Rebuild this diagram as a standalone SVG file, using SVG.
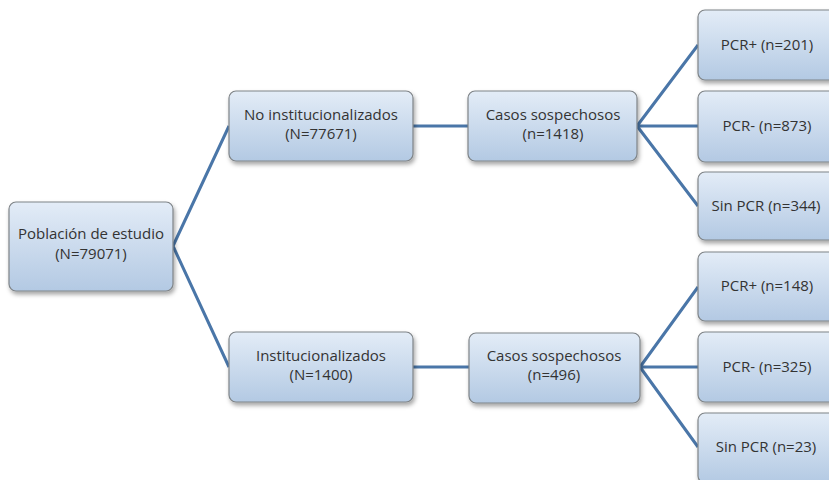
<svg xmlns="http://www.w3.org/2000/svg" width="829" height="480" viewBox="0 0 829 480">
<defs>
<linearGradient id="g" x1="0" y1="0" x2="0" y2="1">
<stop offset="0" stop-color="#e3ecf7"/>
<stop offset="1" stop-color="#b3c9e3"/>
</linearGradient>
<filter id="sh" x="-10%" y="-10%" width="130%" height="140%">
<feDropShadow dx="1.5" dy="3" stdDeviation="2" flood-color="#000" flood-opacity="0.35"/>
</filter>
</defs>
<style>
.box{fill:url(#g);stroke:#7f8488;stroke-width:1.2;filter:url(#sh)}
.t{font-family:"Open Sans","Liberation Sans",sans-serif;font-size:15px;fill:#333;text-anchor:middle}
.c{stroke:#4a76a8;stroke-width:3;fill:none}
</style>
<rect width="829" height="480" fill="#fff"/>
<g id="connectors">
<path class="c" d="M173,246 L229,126 M173,246 L229,367"/>
<path class="c" d="M413,126 L468,126 M637,126 L698,45 M637,126 L698,126 M637,126 L698,206"/>
<path class="c" d="M413,367 L469,367 M640,367 L698,287 M640,367 L698,367 M640,367 L698,447"/>
</g>
<g id="root"><rect class="box" x="9" y="202" width="164" height="89" rx="7"/>
<text class="t" x="91" y="239">Población de estudio</text><text class="t" x="91" y="259">(N=79071)</text></g>
<g id="noinst"><rect class="box" x="229" y="91" width="184" height="70" rx="7"/>
<text class="t" x="321" y="120">No institucionalizados</text><text class="t" x="321" y="139">(N=77671)</text></g>
<g id="casos1"><rect class="box" x="468" y="91" width="169" height="70" rx="7"/>
<text class="t" x="553" y="120">Casos sospechosos</text><text class="t" x="553" y="139">(n=1418)</text></g>
<g id="inst"><rect class="box" x="229" y="332" width="184" height="70" rx="7"/>
<text class="t" x="321" y="361">Institucionalizados</text><text class="t" x="321" y="380">(N=1400)</text></g>
<g id="casos2"><rect class="box" x="469" y="333" width="171" height="70" rx="7"/>
<text class="t" x="554" y="361">Casos sospechosos</text><text class="t" x="554" y="380">(n=496)</text></g>
<g id="pcrp1"><rect class="box" x="698" y="10" width="140" height="70" rx="7"/>
<text class="t" x="767" y="50">PCR+ (n=201)</text></g>
<g id="pcrn1"><rect class="box" x="698" y="91" width="140" height="71" rx="7"/>
<text class="t" x="767" y="131">PCR- (n=873)</text></g>
<g id="sin1"><rect class="box" x="698" y="172" width="140" height="68" rx="7"/>
<text class="t" x="766" y="211">Sin PCR (n=344)</text></g>
<g id="pcrp2"><rect class="box" x="698" y="252" width="140" height="69" rx="7"/>
<text class="t" x="767" y="291">PCR+ (n=148)</text></g>
<g id="pcrn2"><rect class="box" x="698" y="332" width="140" height="70" rx="7"/>
<text class="t" x="767" y="372">PCR- (n=325)</text></g>
<g id="sin2"><rect class="box" x="698" y="413" width="140" height="70" rx="7"/>
<text class="t" x="766" y="452">Sin PCR (n=23)</text></g>
</svg>
